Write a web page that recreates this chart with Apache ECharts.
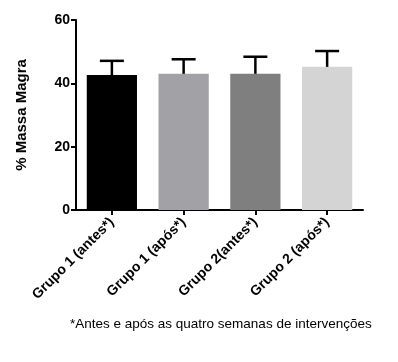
<!DOCTYPE html>
<html><head><meta charset="utf-8">
<script src="https://cdn.jsdelivr.net/npm/echarts@6/dist/echarts.min.js"></script>
<style>html,body{margin:0;padding:0;background:#fff}#c{width:398px;height:362px}</style>
</head><body><div id="c"></div>
<script>
const categories = ['Grupo 1 (antes*)', 'Grupo 1 (após*)', 'Grupo 2(antes*)', 'Grupo 2 (após*)'];
const means = [42.6, 43.0, 43.0, 45.2];
const errorTops = [47.1, 47.6, 48.4, 50.2];
const barColors = ['#000000', '#a2a2a6', '#7f7f7f', '#d4d4d4'];
const yTicks = [0, 20, 40, 60];
const footnote = '*Antes e após as quatro semanas de intervenções';

const FONT = '"Liberation Sans", Arial, sans-serif';
const chart = echarts.init(document.getElementById('c'), null, {renderer: 'canvas'});
chart.setOption({
  animation: false,
  backgroundColor: '#fff',
  grid: {left: 76, right: 35, top: 20, bottom: 152},
  xAxis: {
    type: 'category', data: categories,
    axisLine: {lineStyle: {color: '#000', width: 2}},
    axisTick: {show: true, length: 5, lineStyle: {color: '#000', width: 2}, alignWithLabel: true},
    axisLabel: {rotate: 45, color: '#000', fontWeight: 'bold', fontSize: 14, fontFamily: FONT, margin: 10, interval: 0}
  },
  yAxis: {
    type: 'value', min: yTicks[0], max: yTicks[yTicks.length - 1], interval: 20,
    name: '% Massa Magra', nameLocation: 'middle', nameRotate: 90, nameGap: 47,
    nameTextStyle: {color: '#000', fontWeight: 'bold', fontSize: 15, fontFamily: FONT},
    axisLine: {show: true, lineStyle: {color: '#000', width: 2}},
    axisTick: {show: true, length: 5, lineStyle: {color: '#000', width: 2}},
    axisLabel: {color: '#000', fontWeight: 'bold', fontSize: 14, fontFamily: FONT, margin: 6},
    splitLine: {show: false}
  },
  series: [{
    type: 'bar', barCategoryGap: '30%',
    data: means.map((v, i) => ({value: v, itemStyle: {color: barColors[i]}})),
    z: 2
  }, {
    type: 'custom', z: 3,
    data: errorTops.map((t, i) => [i, means[i], t]),
    renderItem: function (params, api) {
      const i = api.value(0);
      const base = api.coord([i, api.value(1)]);
      const top = api.coord([i, api.value(2)]);
      const hw = 12;
      return {
        type: 'group',
        children: [
          {type: 'line', shape: {x1: base[0], y1: base[1], x2: top[0], y2: top[1]}, style: {stroke: '#000', lineWidth: 2.5}},
          {type: 'line', shape: {x1: top[0] - hw, y1: top[1], x2: top[0] + hw, y2: top[1]}, style: {stroke: '#000', lineWidth: 2.5}}
        ]
      };
    }
  }],
  graphic: [{
    type: 'text', left: 70, top: 317,
    style: {text: footnote, fill: '#000', font: '13.5px ' + FONT}
  }]
});
</script></body></html>
